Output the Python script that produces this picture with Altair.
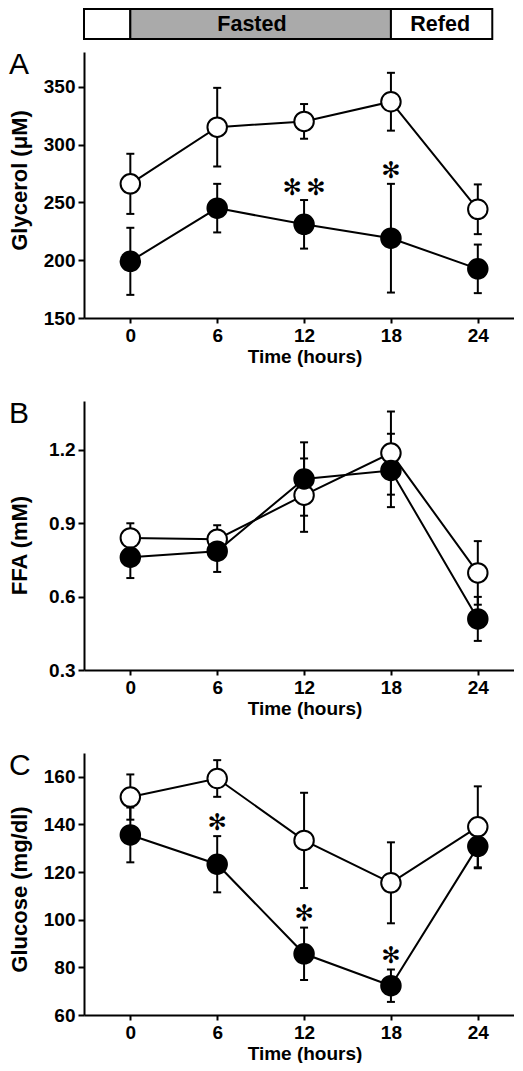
import altair as alt
import pandas as pd

FONT = "Liberation Sans"
XMIN, XMAX = -3.2, 26.5
W = 430

hours = [0, 6, 12, 18, 24]

# Panel A: glycerol (uM)
gly_open = [266, 315, 320, 337, 244]
gly_open_err = [26, 34, 15, 25, 21.5]
gly_fill = [199, 245, 231, 219, 192.5]
gly_fill_err = [29, 21, 21, 47, 21]
gly_star_x = [12, 18]
gly_star_y = [262, 277]
gly_star_t = ["✻\u2009✻", "✻"]

# Panel B: FFA (mM)
ffa_open = [0.84, 0.835, 1.015, 1.187, 0.697]
ffa_open_err = [0.06, 0.057, 0.15, 0.17, 0.13]
ffa_fill = [0.761, 0.786, 1.081, 1.116, 0.509]
ffa_fill_err = [0.085, 0.085, 0.15, 0.15, 0.09]

# Panel C: glucose (mg/dl)
glu_open = [151.5, 159.3, 133.3, 115.5, 139]
glu_open_err = [9.5, 7.7, 20, 17, 17]
glu_fill = [135.6, 123.3, 85.7, 72.3, 130.8]
glu_fill_err = [11.5, 11.8, 11, 6.8, 9.2]
glu_star_x = [6, 12, 18]
glu_star_y = [140.6, 102.5, 84.7]
glu_star_t = ["✻", "✻", "✻"]

# Phase bar
phase_start = [XMIN, 0, 18]
phase_end = [0, 18, 25]
phase_fill = ["white", "#aaaaaa", "white"]
phase_label_x = [8.4, 21.4]
phase_labels = ["Fasted", "Refed"]


def make_df(om, oe, fm, fe):
    rows = []
    for g, m, e in (("open", om, oe), ("filled", fm, fe)):
        for t, mv, ev in zip(hours, m, e):
            rows.append({"time": t, "mean": mv, "lo": mv - ev, "hi": mv + ev, "group": g})
    return pd.DataFrame(rows)


xs = alt.Scale(domain=[XMIN, XMAX], nice=False, zero=False)


def panel(df, ydom, yticks, yfmt, ytitle, title_y, letter, stars, height):
    ys = alt.Scale(domain=ydom, nice=False, zero=False)
    xaxis = alt.Axis(values=hours, title="Time (hours)", titleX=220.5, titleAlign="center")
    yaxis = alt.Axis(values=yticks, title=ytitle, format=yfmt, titleX=-58, titleY=title_y,
                     titleAngle=270, titleBaseline="alphabetic", titleAlign="center")

    def X(f):
        return alt.X(f"{f}:Q", scale=xs, axis=xaxis)

    def Y(f):
        return alt.Y(f"{f}:Q", scale=ys, axis=yaxis)

    base = alt.Chart(df)
    err = base.mark_rule(color="black", strokeWidth=2).encode(x=X("time"), y=Y("lo"), y2="hi:Q")
    cap_lo = base.mark_tick(orient="horizontal", size=8, thickness=2, color="black", opacity=1).encode(x=X("time"), y=Y("lo"))
    cap_hi = base.mark_tick(orient="horizontal", size=8, thickness=2, color="black", opacity=1).encode(x=X("time"), y=Y("hi"))
    line = base.mark_line(color="black", strokeWidth=2).encode(x=X("time"), y=Y("mean"), detail="group:N", order="time:Q")
    p_open = base.transform_filter(alt.datum.group == "open").mark_point(
        shape="circle", size=380, filled=True, fill="white", stroke="black", strokeWidth=2, opacity=1
    ).encode(x=X("time"), y=Y("mean"))
    p_fill = base.transform_filter(alt.datum.group == "filled").mark_point(
        shape="circle", size=380, filled=True, fill="black", stroke="black", strokeWidth=2, opacity=1
    ).encode(x=X("time"), y=Y("mean"))
    lay = [err, cap_lo, cap_hi, line, p_open, p_fill]
    if stars is not None:
        sdf = pd.DataFrame({"time": stars[0], "pos": stars[1], "t": stars[2]})
        lay.append(alt.Chart(sdf).mark_text(font="DejaVu Sans", fontSize=23, baseline="middle", color="black")
                   .encode(x=X("time"), y=Y("pos"), text="t:N"))
    lab = alt.Chart(pd.DataFrame({"letter": [letter]})).mark_text(
        align="left", baseline="top", font=FONT, fontSize=30, fontWeight="normal", color="black"
    ).encode(x=alt.value(-75), y=alt.value(-2), text="letter:N")
    lay.append(lab)
    return alt.layer(*lay).properties(width=W, height=height)


pA = panel(make_df(gly_open, gly_open_err, gly_fill, gly_fill_err), [150, 380], [150, 200, 250, 300, 350], "d",
           "Glycerol (μM)", 128, "A", (gly_star_x, gly_star_y, gly_star_t), 266)
pB = panel(make_df(ffa_open, ffa_open_err, ffa_fill, ffa_fill_err), [0.3, 1.4], [0.3, 0.6, 0.9, 1.2], ".1f",
           "FFA (mM)", 144, "B", None, 269)
pC = panel(make_df(glu_open, glu_open_err, glu_fill, glu_fill_err), [60, 170], [60, 80, 100, 120, 140, 160], "d",
           "Glucose (mg/dl)", 136, "C", (glu_star_x, glu_star_y, glu_star_t), 262)

phase_df = pd.DataFrame({"start": phase_start, "end": phase_end, "fill": phase_fill})
lab_df = pd.DataFrame({"x": phase_label_x, "label": phase_labels})
bar_rect = alt.Chart(phase_df).mark_rect(stroke="black", strokeWidth=2).encode(
    x=alt.X("start:Q", scale=xs, axis=None), x2="end:Q",
    y=alt.value(0), y2=alt.value(30),
    fill=alt.Fill("fill:N", scale=None),
)
bar_text = alt.Chart(lab_df).mark_text(font=FONT, fontSize=21.5, fontWeight="bold", baseline="middle", color="black").encode(
    x=alt.X("x:Q", scale=xs, axis=None), y=alt.value(15.5), text="label:N"
)
bar = alt.layer(bar_rect, bar_text).properties(width=W, height=30)

chart = alt.vconcat(bar, alt.vconcat(pA, pB, pC, spacing=33), spacing=10).properties(padding=0)
chart = chart.configure_view(strokeOpacity=0).configure_axis(
    grid=False, domainColor="black", domainWidth=2, tickColor="black", tickWidth=2,
    labelFont=FONT, labelFontSize=19, labelFontWeight="bold", labelColor="black",
    titleFont=FONT, titleFontWeight="bold", titleColor="black",
).configure_axisX(tickSize=5, labelPadding=3, titlePadding=2, titleFontSize=19
).configure_axisY(tickSize=6, labelPadding=3, titleFontSize=22)

chart.save("out.html", embed_options={"renderer": "svg", "actions": False})
